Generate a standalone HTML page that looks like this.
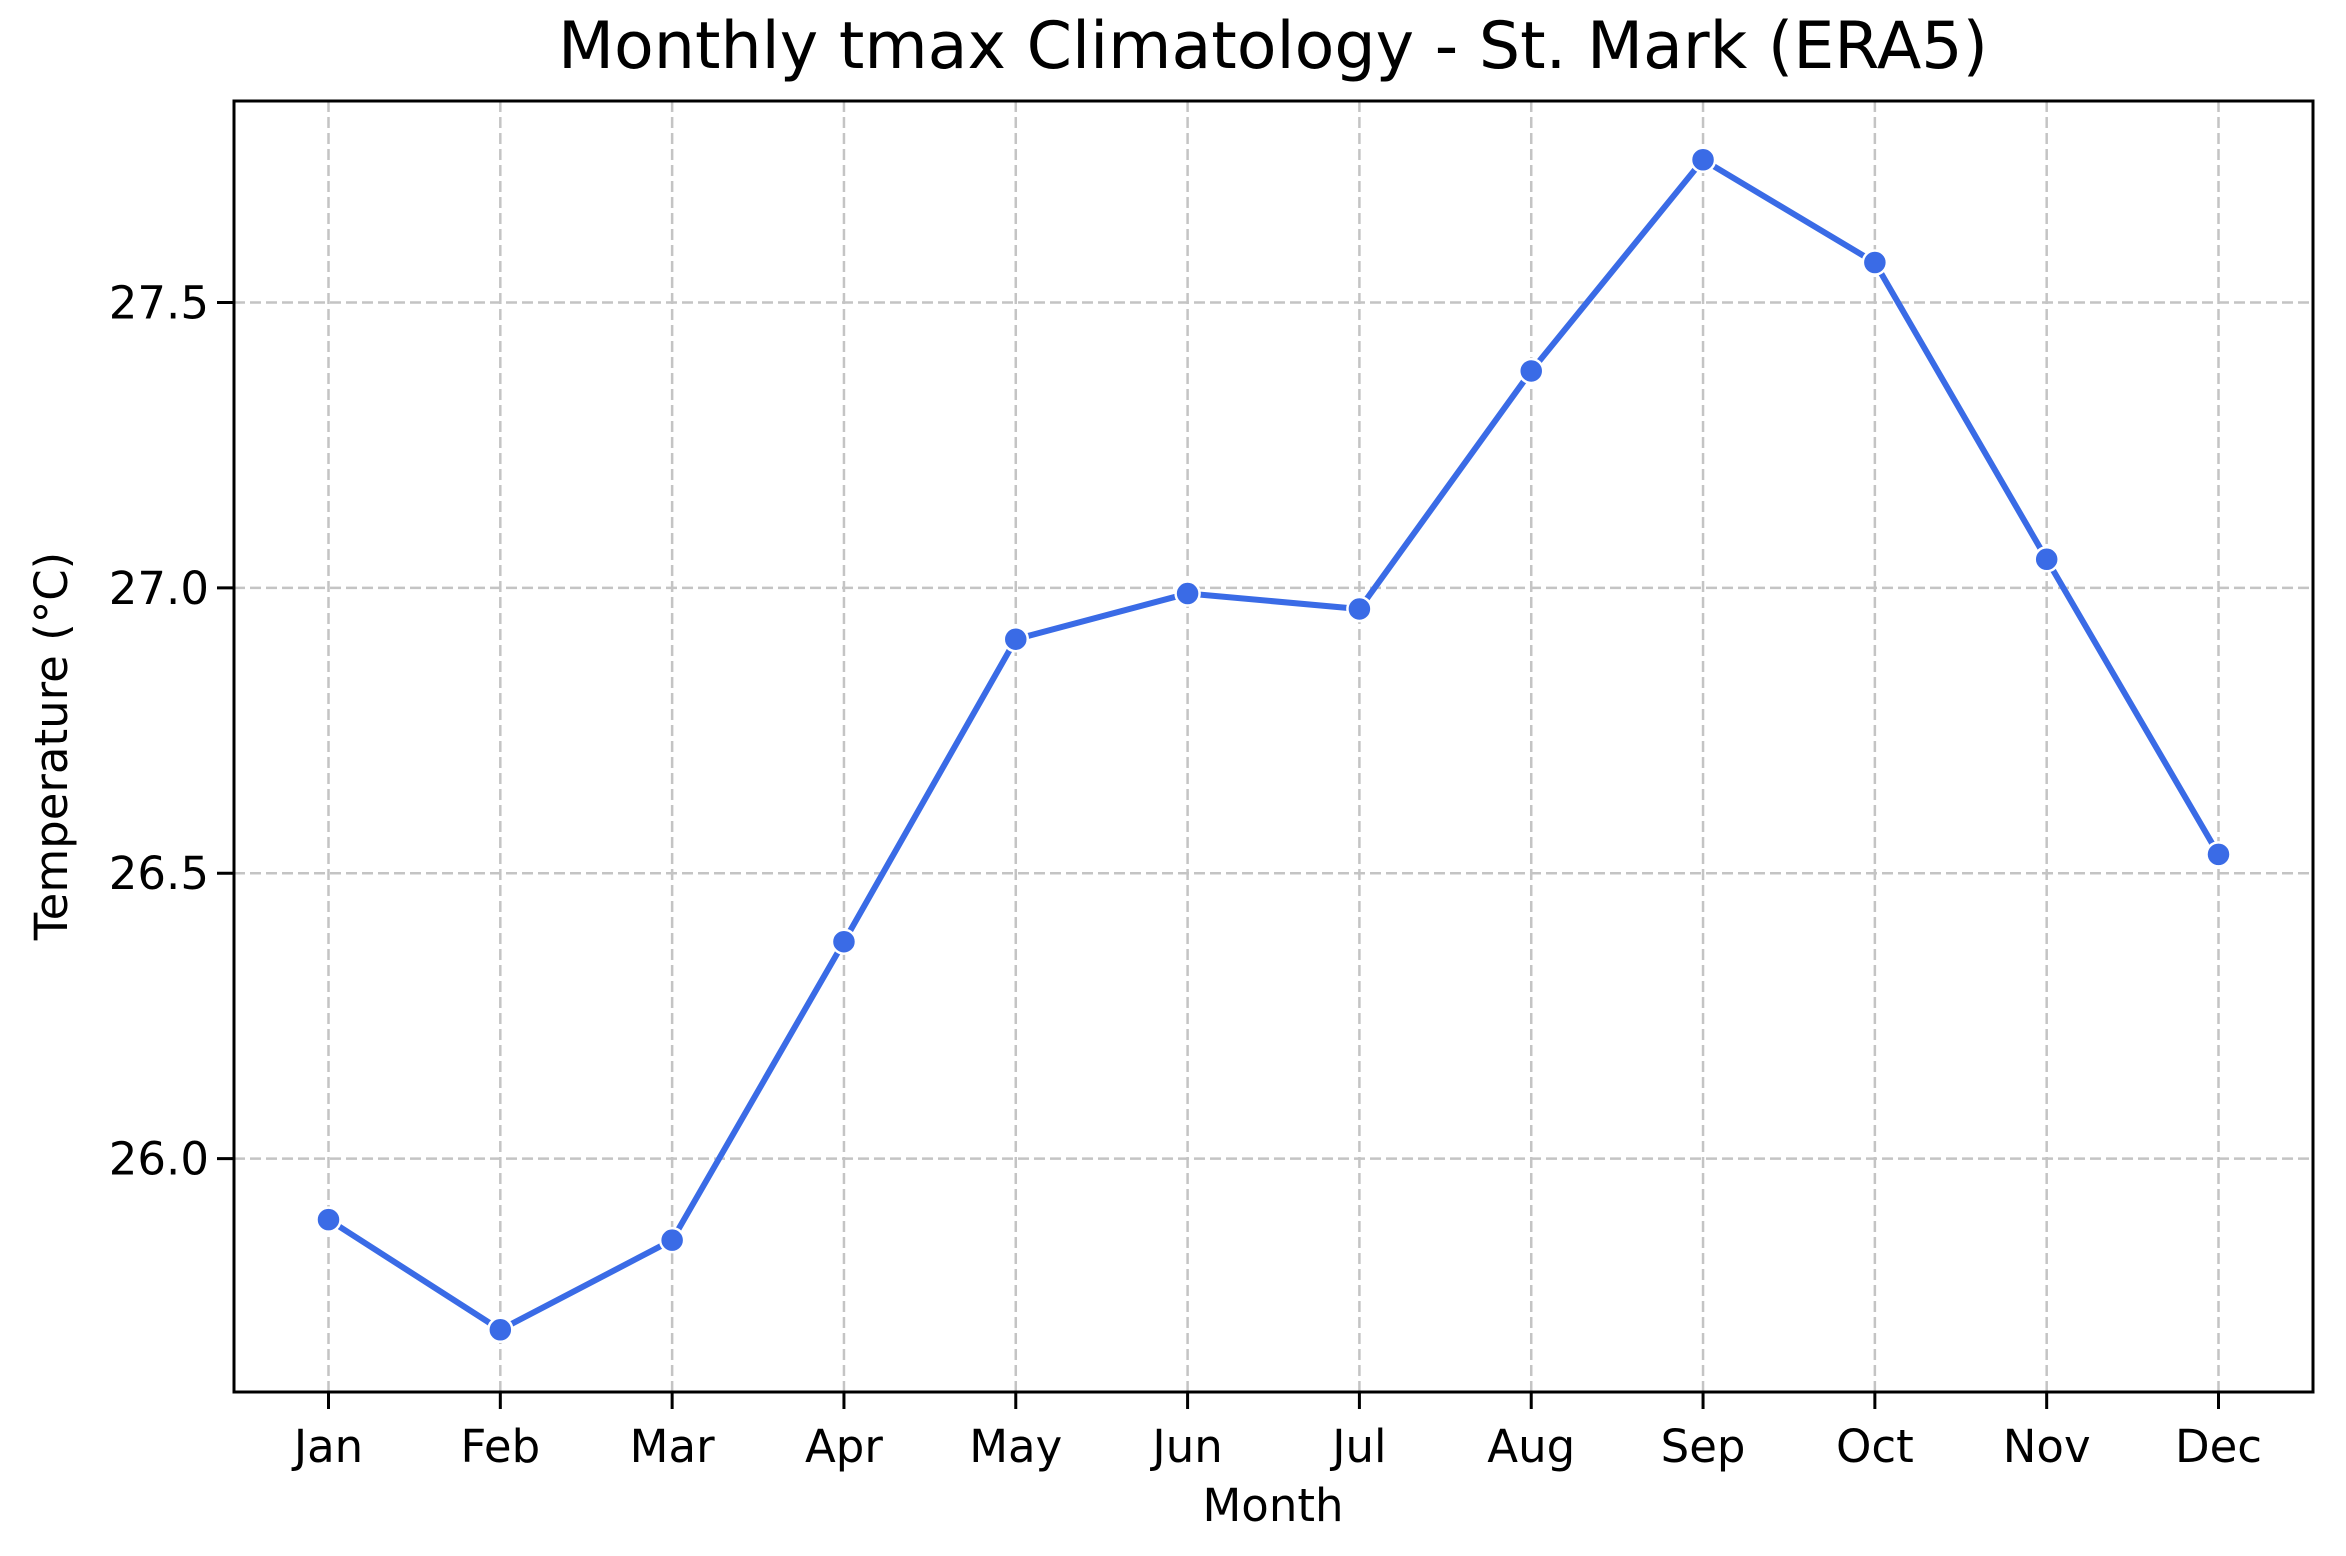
<!DOCTYPE html>
<html><head><meta charset="utf-8"><style>
html,body{margin:0;padding:0;background:#fff;}
svg{display:block;font-family:"DejaVu Sans","Liberation Sans",sans-serif;}
</style></head><body>
<svg id="chart" width="2346" height="1556" viewBox="0 0 2346 1556">
<rect x="0" y="0" width="2346" height="1556" fill="#fff"/>
<text x="1273" y="68" font-size="65" text-anchor="middle" fill="#000">Monthly tmax Climatology - St. Mark (ERA5)</text>
<g id="grid"></g>
<g id="series"></g>
<rect x="234" y="101" width="2079" height="1291" fill="none" stroke="#000" stroke-width="3"/>
<g id="axes"></g>
<text x="1273" y="1521" font-size="45" text-anchor="middle" fill="#000">Month</text>
<text transform="translate(67,746) rotate(-90)" font-size="45" text-anchor="middle" fill="#000">Temperature (°C)</text>
</svg>
<script>
const months = ["Jan","Feb","Mar","Apr","May","Jun","Jul","Aug","Sep","Oct","Nov","Dec"];
const tmax = [25.893,25.700,25.857,26.380,26.910,26.990,26.963,27.380,27.750,27.570,27.050,26.533];
const yTicks = [26.0,26.5,27.0,27.5];
const yTickLabels = ["26.0","26.5","27.0","27.5"];

const L=234,R=2313,T=101,B=1392;
const yMin=25.591,yMax=27.853;
const xPad=0.55;
function xScale(i){return L+(i+xPad)/(months.length-1+2*xPad)*(R-L);}
function yScale(v){return B-(v-yMin)/(yMax-yMin)*(B-T);}
const NS="http://www.w3.org/2000/svg";
function mk(tag,attrs,parent){const e=document.createElementNS(NS,tag);for(const k in attrs)e.setAttribute(k,attrs[k]);parent.appendChild(e);return e;}
const grid=document.getElementById('grid'),series=document.getElementById('series'),axes=document.getElementById('axes');

months.forEach((m,i)=>{
  const x=xScale(i);
  const g=mk('line',{x1:x,x2:x,y1:T,y2:B,stroke:'#c4c4c4','stroke-width':2.5,'stroke-dasharray':'11 5'},grid);
  
  
  const t=mk('line',{x1:x,x2:x,y1:B,y2:B+17,stroke:'#000','stroke-width':3},axes);
  
  
  const l=mk('text',{x:x,y:1462,'font-size':45,'text-anchor':'middle',fill:'#000'},axes);
  l.textContent=m;
  
  
});
yTicks.forEach((v,i)=>{
  const y=yScale(v);
  const g=mk('line',{x1:L,x2:R,y1:y,y2:y,stroke:'#c4c4c4','stroke-width':2.5,'stroke-dasharray':'11 5'},grid);
  
  
  const t=mk('line',{x1:L-17,x2:L,y1:y,y2:y,stroke:'#000','stroke-width':3},axes);
  
  
  const l=mk('text',{x:L-25,y:y+16,'font-size':45,'text-anchor':'end',fill:'#000'},axes);
  l.textContent=yTickLabels[i];
  
  
});
const pts=tmax.map((v,i)=>xScale(i)+','+yScale(v)).join(' ');
const line=mk('polyline',{points:pts,fill:'none',stroke:'#3a6be6','stroke-width':6,'stroke-linejoin':'round'},series);


tmax.forEach((v,i)=>{
  const c=mk('circle',{cx:xScale(i),cy:yScale(v),r:12,fill:'#3a6be6',stroke:'#fff','stroke-width':2.5},series);
  
  
});
</script>
</body></html>
